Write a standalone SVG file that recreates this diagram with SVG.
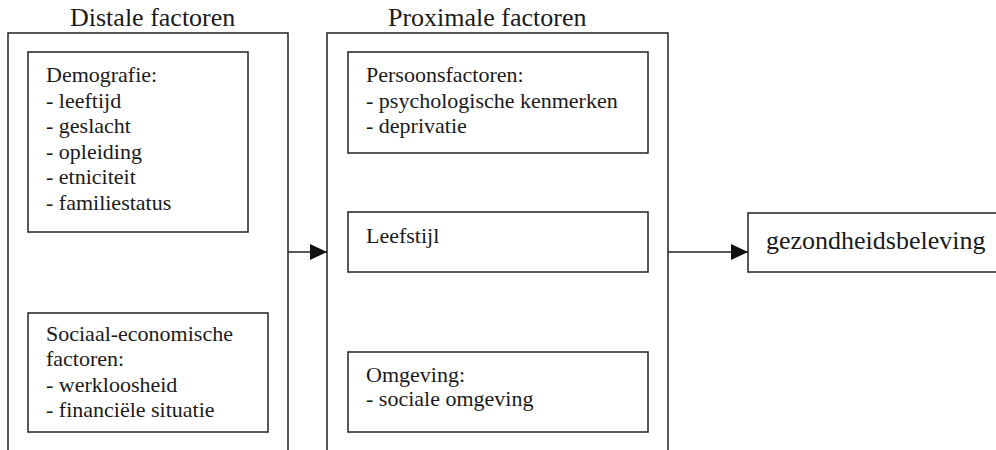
<svg xmlns="http://www.w3.org/2000/svg" width="996" height="450" viewBox="0 0 996 450">
<style>
  .box { fill: #ffffff; stroke: #222222; stroke-width: 1.5; }
  .frame { fill: none; stroke: #222222; stroke-width: 1.5; }
  .conn { fill: none; stroke: #222222; stroke-width: 1.5; }
  .item { font-family: 'Liberation Serif', serif; font-size: 22px; fill: #1a1a1a; }
  .title { font-family: 'Liberation Serif', serif; font-size: 26px; fill: #1a1a1a; }
</style>
<defs>
  <marker id="arrow" markerUnits="userSpaceOnUse" markerWidth="17" markerHeight="16" refX="17" refY="8" orient="auto">
    <path d="M0,0 L17,8 L0,16 Z" fill="#111111"/>
  </marker>
</defs>
<rect x="0" y="0" width="996" height="450" fill="#ffffff"/>

<g id="distal" font-family="Liberation Serif, serif">
  <text class="title" x="70" y="26">Distale factoren</text>
  <path class="frame" d="M8 460 V33 H288 V460"/>
</g>

<g id="demografie" font-family="Liberation Serif, serif">
  <rect class="box" x="28" y="52" width="220" height="180"/>
  <text class="item" x="46" y="82">Demografie:</text>
  <text class="item" x="46" y="107.5">- leeftijd</text>
  <text class="item" x="46" y="133">- geslacht</text>
  <text class="item" x="46" y="158.5">- opleiding</text>
  <text class="item" x="46" y="184">- etniciteit</text>
  <text class="item" x="46" y="209.5">- familiestatus</text>
</g>

<g id="sociaal" font-family="Liberation Serif, serif">
  <rect class="box" x="28" y="313" width="240" height="119"/>
  <text class="item" x="46" y="341">Sociaal-economische</text>
  <text class="item" x="46" y="366">factoren:</text>
  <text class="item" x="46" y="391.5">- werkloosheid</text>
  <text class="item" x="46" y="417">- financiële situatie</text>
</g>

<g id="proximal" font-family="Liberation Serif, serif">
  <text class="title" x="388" y="26">Proximale factoren</text>
  <path class="frame" d="M327 460 V33 H668 V460"/>
</g>

<g id="persoon" font-family="Liberation Serif, serif">
  <rect class="box" x="348" y="52" width="300" height="101"/>
  <text class="item" x="366" y="82">Persoonsfactoren:</text>
  <text class="item" x="366" y="107.5">- psychologische kenmerken</text>
  <text class="item" x="366" y="133">- deprivatie</text>
</g>

<g id="leefstijl" font-family="Liberation Serif, serif">
  <rect class="box" x="348" y="212" width="300" height="60"/>
  <text class="item" x="366" y="243">Leefstijl</text>
</g>

<g id="omgeving" font-family="Liberation Serif, serif">
  <rect class="box" x="348" y="352" width="300" height="80"/>
  <text class="item" x="366" y="382">Omgeving:</text>
  <text class="item" x="366" y="406">- sociale omgeving</text>
</g>

<g id="gezondheid" font-family="Liberation Serif, serif">
  <rect class="box" x="748" y="213" width="260" height="59"/>
  <text class="title" x="766" y="249">gezondheidsbeleving</text>
</g>

<g id="connectors">
  <line class="conn" x1="288" y1="252" x2="327" y2="252" marker-end="url(#arrow)"/>
  <line class="conn" x1="668" y1="252" x2="748" y2="252" marker-end="url(#arrow)"/>
</g>
</svg>
